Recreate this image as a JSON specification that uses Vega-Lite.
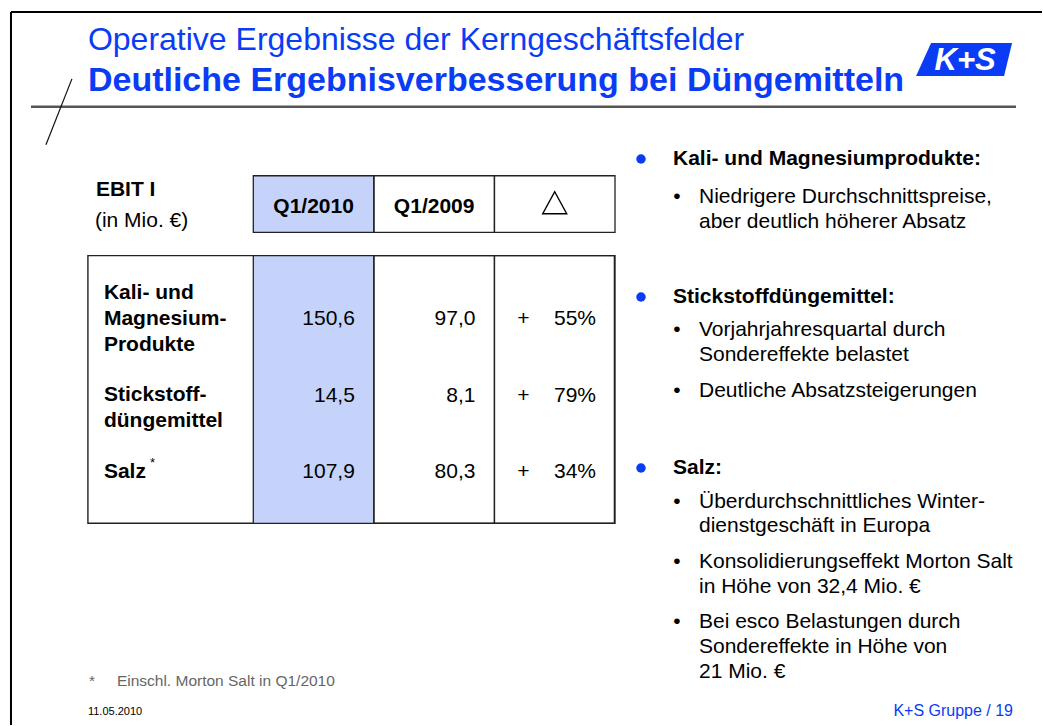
{
  "$schema": "https://vega.github.io/schema/vega-lite/v6.json",
  "width": 1043,
  "height": 726,
  "autosize": {"type": "fit", "contains": "padding"},
  "padding": 0,
  "background": "white",
  "config": {
    "view": {"stroke": null},
    "axis": {"disable": true},
    "legend": {"disable": true},
    "text": {"font": "Liberation Sans"}
  },
  "datasets": {
    "ebit": [
      {"segment": "Kali- und Magnesiumprodukte", "period": "Q1/2010", "value": "150,6"},
      {"segment": "Kali- und Magnesiumprodukte", "period": "Q1/2009", "value": "97,0"},
      {"segment": "Kali- und Magnesiumprodukte", "period": "Δ", "value": "55%", "sign": "+"},
      {"segment": "Stickstoffdüngemittel", "period": "Q1/2010", "value": "14,5"},
      {"segment": "Stickstoffdüngemittel", "period": "Q1/2009", "value": "8,1"},
      {"segment": "Stickstoffdüngemittel", "period": "Δ", "value": "79%", "sign": "+"},
      {"segment": "Salz", "period": "Q1/2010", "value": "107,9"},
      {"segment": "Salz", "period": "Q1/2009", "value": "80,3"},
      {"segment": "Salz", "period": "Δ", "value": "34%", "sign": "+"}
    ],
    "segments": [
      {"segment": "Kali- und Magnesiumprodukte", "label": "Kali- und\nMagnesium-\nProdukte"},
      {"segment": "Stickstoffdüngemittel", "label": "\nStickstoff-\ndüngemittel"},
      {"segment": "Salz", "label": "\nSalz", "note": "*"}
    ],
    "periods": [
      {"period": "Q1/2010", "current": true},
      {"period": "Q1/2009", "current": false},
      {"period": "Δ", "current": false}
    ],
    "comments": [
      {"topic": "Kali- und Magnesiumprodukte", "level": "head", "order": 0, "text": "Kali- und Magnesiumprodukte:"},
      {"topic": "Kali- und Magnesiumprodukte", "level": "item", "order": 1, "text": "Niedrigere Durchschnittspreise,\naber deutlich höherer Absatz"},
      {"topic": "Stickstoffdüngemittel", "level": "head", "order": 2, "text": "Stickstoffdüngemittel:"},
      {"topic": "Stickstoffdüngemittel", "level": "item", "order": 3, "text": "Vorjahrjahresquartal durch\nSondereffekte belastet"},
      {"topic": "Stickstoffdüngemittel", "level": "item", "order": 4, "text": "Deutliche Absatzsteigerungen"},
      {"topic": "Salz", "level": "head", "order": 5, "text": "Salz:"},
      {"topic": "Salz", "level": "item", "order": 6, "text": "Überdurchschnittliches Winter-\ndienstgeschäft in Europa"},
      {"topic": "Salz", "level": "item", "order": 7, "text": "Konsolidierungseffekt Morton Salt\nin Höhe von 32,4 Mio. €"},
      {"topic": "Salz", "level": "item", "order": 8, "text": "Bei esco Belastungen durch\nSondereffekte in Höhe von\n21 Mio. €"}
    ]
  },
  "resolve": {"scale": {"x": "independent", "y": "independent"}},
  "layer": [
    {
      "data": {"values": [{}]},
      "layer": [
        {"mark": {"type": "rule", "stroke": "#000", "strokeWidth": 2},
         "encoding": {"x": {"datum": 11, "type": "quantitative", "scale": {"domain": [0, 1043], "nice": false, "zero": false}}, "y": {"datum": 12, "type": "quantitative", "scale": {"domain": [0, 726], "nice": false, "zero": false, "reverse": true}}, "x2": {"datum": 1043}, "y2": {"datum": 12}}},
        {"mark": {"type": "rule", "stroke": "#000", "strokeWidth": 2},
         "encoding": {"x": {"datum": 11, "type": "quantitative", "scale": {"domain": [0, 1043], "nice": false, "zero": false}}, "y": {"datum": 12, "type": "quantitative", "scale": {"domain": [0, 726], "nice": false, "zero": false, "reverse": true}}, "x2": {"datum": 11}, "y2": {"datum": 726}}},
        {"mark": {"type": "rule", "stroke": "#555555", "strokeWidth": 2.5},
         "encoding": {"x": {"datum": 31, "type": "quantitative", "scale": {"domain": [0, 1043], "nice": false, "zero": false}}, "y": {"datum": 107, "type": "quantitative", "scale": {"domain": [0, 726], "nice": false, "zero": false, "reverse": true}}, "x2": {"datum": 1017}, "y2": {"datum": 107}}},
        {"mark": {"type": "rule", "stroke": "#111111", "strokeWidth": 1.2},
         "encoding": {"x": {"datum": 72, "type": "quantitative", "scale": {"domain": [0, 1043], "nice": false, "zero": false}}, "y": {"datum": 79, "type": "quantitative", "scale": {"domain": [0, 726], "nice": false, "zero": false, "reverse": true}}, "x2": {"datum": 46}, "y2": {"datum": 145}}},
        {"mark": {"type": "text", "text": "Operative Ergebnisse der Kerngeschäftsfelder", "align": "left", "baseline": "alphabetic", "fontSize": 32, "fill": "#0a3cf5"},
         "encoding": {"x": {"datum": 88, "type": "quantitative", "scale": {"domain": [0, 1043], "nice": false, "zero": false}}, "y": {"datum": 50, "type": "quantitative", "scale": {"domain": [0, 726], "nice": false, "zero": false, "reverse": true}}}},
        {"mark": {"type": "text", "text": "Deutliche Ergebnisverbesserung bei Düngemitteln", "align": "left", "baseline": "alphabetic", "fontSize": 34, "fontWeight": "bold", "fill": "#0a3cf5"},
         "encoding": {"x": {"datum": 88, "type": "quantitative", "scale": {"domain": [0, 1043], "nice": false, "zero": false}}, "y": {"datum": 91, "type": "quantitative", "scale": {"domain": [0, 726], "nice": false, "zero": false, "reverse": true}}}},
        {"mark": {"type": "point", "shape": "M-0.6875,-0.344L1,-0.344L0.833,0.344L-1,0.344Z", "size": 9216, "filled": true, "fill": "#0a3cf5", "opacity": 1, "strokeWidth": 0},
         "encoding": {"x": {"datum": 965, "type": "quantitative", "scale": {"domain": [0, 1043], "nice": false, "zero": false}}, "y": {"datum": 59.5, "type": "quantitative", "scale": {"domain": [0, 726], "nice": false, "zero": false, "reverse": true}}}},
        {"mark": {"type": "text", "text": "K+S", "align": "center", "baseline": "alphabetic", "fontSize": 31, "fontStyle": "italic", "fontWeight": "bold", "fill": "white"},
         "encoding": {"x": {"datum": 966, "type": "quantitative", "scale": {"domain": [0, 1043], "nice": false, "zero": false}}, "y": {"datum": 70, "type": "quantitative", "scale": {"domain": [0, 726], "nice": false, "zero": false, "reverse": true}}}},
        {"mark": {"type": "text", "text": "EBIT I", "align": "left", "baseline": "alphabetic", "fontSize": 21, "fontWeight": "bold", "fill": "#000"},
         "encoding": {"x": {"datum": 96, "type": "quantitative", "scale": {"domain": [0, 1043], "nice": false, "zero": false}}, "y": {"datum": 196, "type": "quantitative", "scale": {"domain": [0, 726], "nice": false, "zero": false, "reverse": true}}}},
        {"mark": {"type": "text", "text": "(in Mio. €)", "align": "left", "baseline": "alphabetic", "fontSize": 21, "fill": "#000"},
         "encoding": {"x": {"datum": 95, "type": "quantitative", "scale": {"domain": [0, 1043], "nice": false, "zero": false}}, "y": {"datum": 227, "type": "quantitative", "scale": {"domain": [0, 726], "nice": false, "zero": false, "reverse": true}}}},
        {"mark": {"type": "rect", "fill": "white", "fillOpacity": 0, "stroke": "#222222", "strokeWidth": 1.4},
         "encoding": {"x": {"datum": 88, "type": "quantitative", "scale": {"domain": [0, 1043], "nice": false, "zero": false}}, "y": {"datum": 256, "type": "quantitative", "scale": {"domain": [0, 726], "nice": false, "zero": false, "reverse": true}}, "x2": {"datum": 615}, "y2": {"datum": 524}}},
        {"mark": {"type": "text", "text": "*", "align": "left", "baseline": "alphabetic", "fontSize": 15.5, "fill": "#666666"},
         "encoding": {"x": {"datum": 89, "type": "quantitative", "scale": {"domain": [0, 1043], "nice": false, "zero": false}}, "y": {"datum": 687, "type": "quantitative", "scale": {"domain": [0, 726], "nice": false, "zero": false, "reverse": true}}}},
        {"mark": {"type": "text", "text": "Einschl. Morton Salt in Q1/2010", "align": "left", "baseline": "alphabetic", "fontSize": 15.5, "fill": "#666666"},
         "encoding": {"x": {"datum": 117, "type": "quantitative", "scale": {"domain": [0, 1043], "nice": false, "zero": false}}, "y": {"datum": 687, "type": "quantitative", "scale": {"domain": [0, 726], "nice": false, "zero": false, "reverse": true}}}},
        {"mark": {"type": "text", "text": "11.05.2010", "align": "left", "baseline": "alphabetic", "fontSize": 11, "fill": "#000"},
         "encoding": {"x": {"datum": 88, "type": "quantitative", "scale": {"domain": [0, 1043], "nice": false, "zero": false}}, "y": {"datum": 716, "type": "quantitative", "scale": {"domain": [0, 726], "nice": false, "zero": false, "reverse": true}}}},
        {"mark": {"type": "text", "text": "K+S Gruppe / 19", "align": "right", "baseline": "alphabetic", "fontSize": 16, "fill": "#0a3cf5"},
         "encoding": {"x": {"datum": 1014, "type": "quantitative", "scale": {"domain": [0, 1043], "nice": false, "zero": false}}, "y": {"datum": 717, "type": "quantitative", "scale": {"domain": [0, 726], "nice": false, "zero": false, "reverse": true}}}}
      ]
    },
    {
      "data": {"name": "periods"},
      "layer": [
        {"mark": {"type": "rect", "stroke": "#222222", "strokeWidth": 1.3},
         "encoding": {
           "x": {"field": "period", "type": "nominal", "scale": {"type": "band", "domain": ["Q1/2010", "Q1/2009", "Δ"], "range": [253.3, 615], "paddingInner": 0, "paddingOuter": 0}},
           "y": {"datum": 256, "type": "quantitative", "scale": {"domain": [0, 726], "nice": false, "zero": false, "reverse": true}},
           "y2": {"datum": 524},
           "fill": {"condition": {"test": "datum.current", "value": "#c5d3fb"}, "value": "transparent"}}},
        {"mark": {"type": "rect", "stroke": "#222222", "strokeWidth": 1.3},
         "encoding": {
           "x": {"field": "period", "type": "nominal", "scale": {"type": "band", "domain": ["Q1/2010", "Q1/2009", "Δ"], "range": [253.3, 615], "paddingInner": 0, "paddingOuter": 0}},
           "y": {"datum": 176, "type": "quantitative", "scale": {"domain": [0, 726], "nice": false, "zero": false, "reverse": true}},
           "y2": {"datum": 232.7},
           "fill": {"condition": {"test": "datum.current", "value": "#c5d3fb"}, "value": "transparent"}}},
        {"transform": [{"filter": "datum.period !== 'Δ'"}],
         "mark": {"type": "text", "align": "center", "baseline": "alphabetic", "fontSize": 21, "fontWeight": "bold", "fill": "#000"},
         "encoding": {
           "x": {"field": "period", "type": "nominal", "bandPosition": 0.5, "scale": {"type": "band", "domain": ["Q1/2010", "Q1/2009", "Δ"], "range": [253.3, 615], "paddingInner": 0, "paddingOuter": 0}},
           "y": {"datum": 213.3, "type": "quantitative", "scale": {"domain": [0, 726], "nice": false, "zero": false, "reverse": true}},
           "text": {"field": "period", "type": "nominal"}}},
        {"transform": [{"filter": "datum.period === 'Δ'"}],
         "mark": {"type": "point", "shape": "M0,-0.917L1,0.917L-1,0.917Z", "size": 576, "filled": false, "stroke": "#000", "strokeWidth": 1.4, "opacity": 1},
         "encoding": {
           "x": {"field": "period", "type": "nominal", "bandPosition": 0.5, "scale": {"type": "band", "domain": ["Q1/2010", "Q1/2009", "Δ"], "range": [253.3, 615], "paddingInner": 0, "paddingOuter": 0}},
           "y": {"datum": 203, "type": "quantitative", "scale": {"domain": [0, 726], "nice": false, "zero": false, "reverse": true}}}}
      ]
    },
    {
      "data": {"name": "ebit"},
      "layer": [
        {"mark": {"type": "text", "align": "right", "baseline": "middle", "dx": -19, "fontSize": 21, "fill": "#000"},
         "encoding": {
           "x": {"field": "period", "type": "nominal", "bandPosition": 1, "scale": {"type": "band", "domain": ["Q1/2010", "Q1/2009", "Δ"], "range": [253.3, 615], "paddingInner": 0, "paddingOuter": 0}},
           "y": {"field": "segment", "type": "nominal", "scale": {"type": "point", "domain": ["Kali- und Magnesiumprodukte", "Stickstoffdüngemittel", "Salz"], "range": [319, 472], "padding": 0}},
           "text": {"field": "value", "type": "nominal"}}},
        {"transform": [{"filter": "isValid(datum.sign)"}],
         "mark": {"type": "text", "align": "center", "baseline": "middle", "dx": 29, "fontSize": 21, "fill": "#000"},
         "encoding": {
           "x": {"field": "period", "type": "nominal", "bandPosition": 0, "scale": {"type": "band", "domain": ["Q1/2010", "Q1/2009", "Δ"], "range": [253.3, 615], "paddingInner": 0, "paddingOuter": 0}},
           "y": {"field": "segment", "type": "nominal", "scale": {"type": "point", "domain": ["Kali- und Magnesiumprodukte", "Stickstoffdüngemittel", "Salz"], "range": [319, 472], "padding": 0}},
           "text": {"field": "sign", "type": "nominal"}}}
      ]
    },
    {
      "data": {"name": "segments"},
      "layer": [
        {"mark": {"type": "text", "align": "left", "baseline": "middle", "lineBreak": "\n", "lineHeight": 25.6, "dy": -25.6, "fontSize": 21, "fontWeight": "bold", "fill": "#000"},
         "encoding": {
           "x": {"datum": 104, "type": "quantitative", "scale": {"domain": [0, 1043], "nice": false, "zero": false}},
           "y": {"field": "segment", "type": "nominal", "scale": {"type": "point", "domain": ["Kali- und Magnesiumprodukte", "Stickstoffdüngemittel", "Salz"], "range": [319, 472], "padding": 0}},
           "text": {"field": "label", "type": "nominal"}}},
        {"transform": [{"filter": "isValid(datum.note)"}],
         "mark": {"type": "text", "align": "left", "baseline": "middle", "dx": 46, "dy": -9, "fontSize": 13, "fill": "#000"},
         "encoding": {
           "x": {"datum": 104, "type": "quantitative", "scale": {"domain": [0, 1043], "nice": false, "zero": false}},
           "y": {"field": "segment", "type": "nominal", "scale": {"type": "point", "domain": ["Kali- und Magnesiumprodukte", "Stickstoffdüngemittel", "Salz"], "range": [319, 472], "padding": 0}},
           "text": {"field": "note", "type": "nominal"}}}
      ]
    },
    {
      "data": {"name": "comments"},
      "layer": [
        {"transform": [{"filter": "datum.level === 'head'"}],
         "mark": {"type": "text", "align": "left", "baseline": "alphabetic", "fontSize": 21, "fontWeight": "bold", "fill": "#000"},
         "encoding": {
           "x": {"field": "level", "type": "nominal", "scale": {"type": "point", "domain": ["head", "item"], "range": [673, 699], "padding": 0}},
           "y": {"field": "order", "type": "quantitative", "scale": {"domain": [0, 1, 2, 3, 4, 5, 6, 7, 8], "range": [165, 203, 303, 336, 397, 474, 507.5, 568, 628], "nice": false, "zero": false}},
           "text": {"field": "text", "type": "nominal"}}},
        {"transform": [{"filter": "datum.level === 'item'"}],
         "mark": {"type": "text", "align": "left", "baseline": "alphabetic", "lineBreak": "\n", "lineHeight": 24.8, "fontSize": 21, "fill": "#000"},
         "encoding": {
           "x": {"field": "level", "type": "nominal", "scale": {"type": "point", "domain": ["head", "item"], "range": [673, 699], "padding": 0}},
           "y": {"field": "order", "type": "quantitative", "scale": {"domain": [0, 1, 2, 3, 4, 5, 6, 7, 8], "range": [165, 203, 303, 336, 397, 474, 507.5, 568, 628], "nice": false, "zero": false}},
           "text": {"field": "text", "type": "nominal"}}},
        {"transform": [{"filter": "datum.level === 'head'"}],
         "mark": {"type": "point", "shape": "circle", "size": 90, "filled": true, "fill": "#0a3cf5", "opacity": 1, "strokeWidth": 0, "xOffset": -32, "yOffset": -6},
         "encoding": {
           "x": {"field": "level", "type": "nominal", "scale": {"type": "point", "domain": ["head", "item"], "range": [673, 699], "padding": 0}},
           "y": {"field": "order", "type": "quantitative", "scale": {"domain": [0, 1, 2, 3, 4, 5, 6, 7, 8], "range": [165, 203, 303, 336, 397, 474, 507.5, 568, 628], "nice": false, "zero": false}}}},
        {"transform": [{"filter": "datum.level === 'item'"}],
         "mark": {"type": "text", "text": "•", "align": "center", "baseline": "alphabetic", "dx": -22, "fontSize": 21, "fill": "#000"},
         "encoding": {
           "x": {"field": "level", "type": "nominal", "scale": {"type": "point", "domain": ["head", "item"], "range": [673, 699], "padding": 0}},
           "y": {"field": "order", "type": "quantitative", "scale": {"domain": [0, 1, 2, 3, 4, 5, 6, 7, 8], "range": [165, 203, 303, 336, 397, 474, 507.5, 568, 628], "nice": false, "zero": false}}}}
      ]
    }
  ]
}
